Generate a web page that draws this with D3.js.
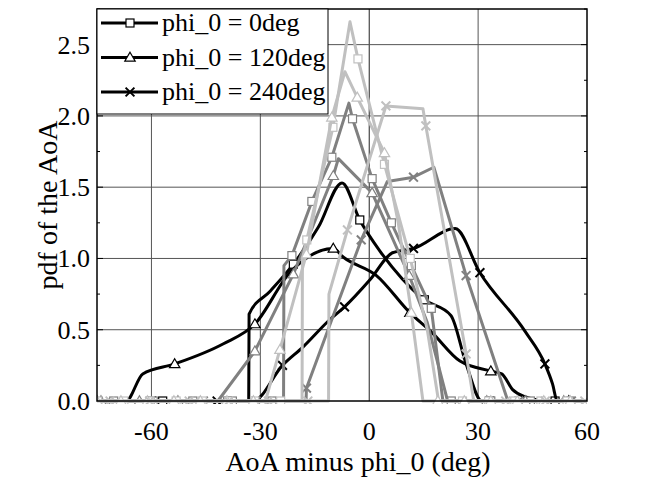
<!DOCTYPE html>
<meta charset="utf-8">
<script src="https://d3js.org/d3.v7.min.js"></script>
<html>
<body style="margin:0;background:#fff">
<div id="chart"></div>
<script>
// x range and ticks
var xTicks = [-60, -30, 0, 30, 60];
var yTicks = [0, 0.5, 1.0, 1.5, 2.0, 2.5];
var yMinor = [0.25, 0.75, 1.25, 1.75, 2.25, 2.75];
var legendLabels = ["phi_0 = 0deg", "phi_0 = 120deg", "phi_0 = 240deg"];

// each point: [AoA minus phi_0, pdf, marker?]
var blackSquare = [[-75,0],[-56.9,0,1],[-38.9,0,1],[-33.2,0],[-33.1,0.61],[-27.3,0.77],[-20.9,0.96,1],[-14,1.22],[-7.5,1.53],[-2.6,1.27,1],[3,1.05],[9,0.86],[15.2,0.71,1],[22.5,0.60],[26.7,0.26],[31,0],[33.2,0,1],[51.2,0,1],[60,0]];
var blackTri = [[-75,0,1],[-67,0],[-62.4,0.19],[-53.6,0.26,1],[-40.3,0.40],[-31.5,0.54,1],[-21.9,0.90],[-9.9,1.07,1],[-7.2,1.01],[2,0.88],[11.2,0.62,1],[17.3,0.48],[25,0.28],[33.5,0.21,1],[36.5,0.19],[39.5,0.08],[42.9,0.03],[47.1,0.005],[50,0],[55,0,1],[60,0]];
var blackCross = [[-75,0],[-59.9,0,1],[-41.9,0,1],[-32,0],[-23.9,0.25,1],[-18.2,0.38],[-10.9,0.57],[-6.8,0.66,1],[0.2,0.85],[6.4,1.04],[12.2,1.07,1],[23.7,1.21],[30.5,0.90,1],[42.9,0.49],[48.4,0.26,1],[50.5,0.12],[51.8,0],[60,0]];

var dgSquare = [[-75,0],[-70.4,0,1],[-59.5,0,1],[-48.6,0,1],[-37.7,0,1],[-26.8,0,1],[-23.6,0],[-23.5,0.95],[-21.3,1.02,1],[-15.8,1.40,1],[-10.3,1.71,1],[-5.6,2.09],[-4.6,1.98,1],[0.8,1.56,1],[6.1,1.25,1],[11.6,0.95,1],[17.1,0.65,1],[20.3,0],[22.6,0,1],[33.5,0,1],[44.4,0,1],[55.3,0,1],[60,0]];
var dgTri = [[-75,0],[-73.9,0,1],[-63.3,0,1],[-52.7,0,1],[-41.7,0],[-31.5,0.35,1],[-20.9,0.89,1],[-9.9,1.58,1],[-8.5,1.70],[0.8,1.46,1],[11,0.88,1],[16,0.55],[21.6,0],[32.4,0,1],[43,0,1],[53.6,0,1],[60,0]];
var dgCross = [[-75,0],[-74.7,0,1],[-60.2,0,1],[-45.7,0,1],[-31.2,0,1],[-17.4,0],[-17.3,0.09,1],[-2.2,1.13,1],[5.0,1.54],[12.2,1.57,1],[17.8,1.64],[26.7,0.88,1],[38.2,0],[41.2,0,1],[55.7,0,1],[60,0]];

var lgSquare = [[-75,0],[-74.8,0,1],[-67.6,0,1],[-60.4,0,1],[-53.2,0,1],[-46,0,1],[-38.8,0,1],[-31.6,0,1],[-24.4,0,1],[-18.5,0],[-18.4,1.0],[-17.2,1.13,1],[-10,1.92,1],[-5.3,2.66],[-3.1,2.40,1],[4.2,1.66,1],[11.3,1.0,1],[16,0.5],[19.1,0],[25.7,0,1],[32.9,0,1],[40.1,0,1],[47.3,0,1],[54.5,0,1],[60,0]];
var lgTri = [[-75,0,1],[-68.4,0,1],[-61.1,0,1],[-53.8,0,1],[-46.5,0,1],[-39.2,0,1],[-31.9,0,1],[-28.6,0],[-24.6,0.36,1],[-17.3,1.03,1],[-10.3,1.99,1],[-6.7,2.31],[-3.3,2.13,1],[4.2,1.74,1],[8,1.25],[11.6,0.62,1],[14.8,0],[18.9,0,1],[26.2,0,1],[33.5,0,1],[40.8,0,1],[48.1,0,1],[55.4,0,1],[60,0]];
var lgCross = [[-75,0],[-71.4,0,1],[-60.5,0,1],[-49.6,0,1],[-38.7,0,1],[-27.8,0,1],[-16.9,0,1],[-11.2,0],[-11.1,0.75],[-6.0,1.20,1],[4.6,2.07,1],[14.8,2.05],[15.6,1.93,1],[26.7,0.33,1],[28.8,0],[37.6,0,1],[48.5,0,1],[59.4,0,1],[60,0]];

var series = [
  {data: blackSquare, color: "#000", mark: "square", smooth: true},
  {data: blackTri, color: "#000", mark: "tri", smooth: true},
  {data: blackCross, color: "#000", mark: "cross", smooth: true},
  {data: dgSquare, color: "#808080", mark: "square"},
  {data: dgTri, color: "#808080", mark: "tri"},
  {data: dgCross, color: "#808080", mark: "cross"},
  {data: lgSquare, color: "#c0c0c0", mark: "square"},
  {data: lgTri, color: "#c0c0c0", mark: "tri"},
  {data: lgCross, color: "#c0c0c0", mark: "cross"}
];

var W = 659, H = 488;
var margin = {top: 9, right: 72, bottom: 87, left: 97};
var width = W - margin.left - margin.right,
    height = H - margin.top - margin.bottom;

var svg = d3.select("#chart").append("svg")
    .attr("width", W).attr("height", H)
    .style("font-family", "'Liberation Serif', 'Times New Roman', serif");

var g = svg.append("g")
    .attr("transform", "translate(" + margin.left + "," + margin.top + ")");

var x = d3.scaleLinear().domain([-75, 60]).range([0, width]);
var y = d3.scaleLinear().domain([0, 2.75]).range([height, 0]);

g.append("clipPath").attr("id", "clip")
  .append("rect").attr("width", width).attr("height", height + 6).attr("y", -3);

// grid
g.selectAll(".vg").data(xTicks.filter(function(d) { return d < 60; }))
  .enter().append("line")
    .attr("x1", function(d) { return x(d); }).attr("x2", function(d) { return x(d); })
    .attr("y1", 0).attr("y2", height)
    .attr("stroke", function(d) { return d === 0 ? "#222" : "#555"; })
    .attr("stroke-width", 1);
g.selectAll(".hg").data(yTicks.filter(function(d) { return d > 0; }))
  .enter().append("line")
    .attr("x1", 0).attr("x2", width)
    .attr("y1", function(d) { return y(d); }).attr("y2", function(d) { return y(d); })
    .attr("stroke", "#555").attr("stroke-width", 1);

// inward ticks on left and right
[0, width].forEach(function(xp) {
  var dir = xp === 0 ? 1 : -1;
  g.selectAll(null).data(yTicks).enter().append("line")
    .attr("x1", xp).attr("x2", xp + dir * 6)
    .attr("y1", function(d) { return y(d); }).attr("y2", function(d) { return y(d); })
    .attr("stroke", "#000").attr("stroke-width", 1);
  g.selectAll(null).data(yMinor).enter().append("line")
    .attr("x1", xp).attr("x2", xp + dir * 3)
    .attr("y1", function(d) { return y(d); }).attr("y2", function(d) { return y(d); })
    .attr("stroke", "#000").attr("stroke-width", 1);
});

var smoothLine = d3.line()
  .x(function(d) { return x(d[0]); })
  .y(function(d) { return y(d[1]); })
  .curve(d3.curveMonotoneX);
var straightLine = d3.line()
  .x(function(d) { return x(d[0]); })
  .y(function(d) { return y(d[1]); });

var plot = g.append("g").attr("clip-path", "url(#clip)");

function drawMarker(sel, type, color, size) {
  if (type === "square") {
    sel.append("rect").attr("x", -size / 2).attr("y", -size / 2)
      .attr("width", size).attr("height", size)
      .attr("fill", "#fff").attr("stroke", color).attr("stroke-width", 1.2);
  } else if (type === "tri") {
    var s = size * 0.62;
    sel.append("path").attr("d", "M0," + (-s * 1.05) + "L" + (s * 1.05) + "," + (s * 0.75) + "L" + (-s * 1.05) + "," + (s * 0.75) + "Z")
      .attr("fill", "#fff").attr("stroke", color).attr("stroke-width", 1.2);
  } else {
    var c = size * 0.55;
    sel.append("path").attr("d", "M" + (-c) + "," + (-c) + "L" + c + "," + c + "M" + (-c) + "," + c + "L" + c + "," + (-c))
      .attr("fill", "none").attr("stroke", color).attr("stroke-width", 2);
  }
}

series.forEach(function(s) {
  plot.append("path").datum(s.data)
    .attr("d", s.smooth ? smoothLine : straightLine)
    .attr("fill", "none")
    .attr("stroke", s.color)
    .attr("stroke-width", 3)
    .attr("stroke-linejoin", "round");
  s.data.filter(function(d) { return d[2]; }).forEach(function(d) {
    var m = plot.append("g").attr("transform", "translate(" + x(d[0]) + "," + y(d[1]) + ")");
    drawMarker(m, s.mark, s.color, 8);
  });
});

// frame
g.append("rect").attr("width", width).attr("height", height)
  .attr("fill", "none").attr("stroke", "#000").attr("stroke-width", 1.5);

// tick labels
g.selectAll(".xl").data(xTicks).enter().append("text")
  .attr("x", function(d) { return x(d); })
  .attr("y", height + 39)
  .attr("text-anchor", "middle")
  .attr("font-size", 26)
  .text(function(d) { return d; });
g.selectAll(".yl").data(yTicks).enter().append("text")
  .attr("x", -7)
  .attr("y", function(d) { return y(d) + 9; })
  .attr("text-anchor", "end")
  .attr("font-size", 26)
  .text(function(d) { return d.toFixed(1); });

// axis titles
g.append("text")
  .attr("x", width / 2 + 16).attr("y", height + 70)
  .attr("text-anchor", "middle").attr("font-size", 28)
  .text("AoA minus phi_0 (deg)");
g.append("text")
  .attr("transform", "translate(-40," + (height / 2) + ") rotate(-90)")
  .attr("text-anchor", "middle").attr("font-size", 28)
  .text("pdf of the AoA");

// legend
var leg = g.append("g");
leg.append("rect").attr("x", 0).attr("y", 0).attr("width", 231).attr("height", 105)
  .attr("fill", "#fff").attr("stroke", "#000").attr("stroke-width", 1);
var legMarks = ["square", "tri", "cross"];
legendLabels.forEach(function(lab, i) {
  var ly = 14 + i * 34.5;
  leg.append("line").attr("x1", 4).attr("x2", 61).attr("y1", ly).attr("y2", ly)
    .attr("stroke", "#000").attr("stroke-width", 3);
  var m = leg.append("g").attr("transform", "translate(33," + ly + ")");
  drawMarker(m, legMarks[i], "#000", 8);
  leg.append("text").attr("x", 65).attr("y", ly + 8)
    .attr("font-size", 26).text(lab);
});
</script>
</body>
</html>
